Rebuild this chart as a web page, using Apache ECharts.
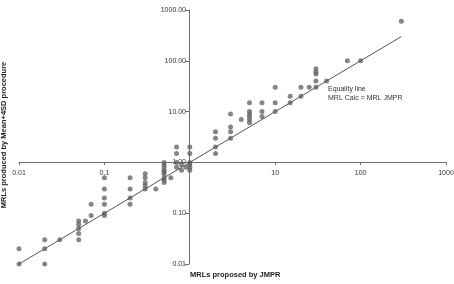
<!DOCTYPE html>
<html>
<head>
<meta charset="utf-8">
<script src="https://cdn.jsdelivr.net/npm/echarts@6/dist/echarts.min.js"></script>
<style>
  html, body { margin: 0; padding: 0; background: #fff; }
  #chart { width: 454px; height: 284px; }
</style>
</head>
<body>
<div id="chart"></div>
<script>
// MRL proposed by JMPR (x) vs MRL from Mean+4SD procedure (y)
const mrlJmpr = [
  0.01, 0.01,
  0.02, 0.02, 0.02,
  0.03,
  0.05, 0.05, 0.05, 0.05, 0.05,
  0.06,
  0.07, 0.07,
  0.1, 0.1, 0.1, 0.1, 0.1, 0.1,
  0.2, 0.2, 0.2, 0.2,
  0.3, 0.3, 0.3, 0.3, 0.3,
  0.4,
  0.5, 0.5, 0.5, 0.5, 0.5, 0.5, 0.5, 0.5, 0.5,
  0.6,
  0.7, 0.7, 0.7, 0.7,
  0.8, 0.8, 0.9,
  1, 1, 1, 1, 1, 1,
  2, 2, 2, 2,
  3, 3, 3, 3,
  4,
  5, 5, 5, 5, 5, 5,
  7, 7, 7,
  10, 10, 10,
  15, 15,
  20, 20,
  25,
  30, 30, 30, 30, 30,
  40,
  70, 100,
  300
];
const mrlCalc = [
  0.01, 0.02,
  0.01, 0.02, 0.03,
  0.03,
  0.03, 0.04, 0.05, 0.06, 0.07,
  0.07,
  0.09, 0.15,
  0.09, 0.1, 0.15, 0.2, 0.3, 0.5,
  0.15, 0.2, 0.3, 0.5,
  0.3, 0.35, 0.4, 0.5, 0.6,
  0.3,
  0.4, 0.45, 0.5, 0.6, 0.65, 0.7, 0.8, 0.9, 1,
  0.5,
  0.8, 1, 1.5, 2,
  0.7, 0.9, 0.8,
  0.7, 0.8, 0.9, 1, 1.5, 2,
  1.5, 2, 3, 4,
  3, 4, 5, 9,
  7,
  6, 7, 8, 9, 10, 15,
  8, 10, 15,
  10, 15, 30,
  15, 20,
  20, 30,
  30,
  30, 40, 55, 60, 70,
  40,
  100, 100,
  600
];
const equalityX = [0.01, 300];
const equalityY = [0.01, 300];

const xTickLabels = ['0.01', '0.1', '', '10', '100', '1000'];
const yTickLabels = ['0.01', '0.10', '1.00', '10.00', '100.00', '1000.00'];

const chart = echarts.init(document.getElementById('chart'));

const axisStyle = { color: '#6e6e6e', width: 1 };
const labelFont = { fontFamily: 'Liberation Sans, Arial, sans-serif', fontSize: 7, color: '#333' };

chart.setOption({
  animation: false,
  grid: { left: 19, right: 8, top: 10, bottom: 20, containLabel: false, outerBoundsMode: 'none' },
  xAxis: {
    type: 'log', logBase: 10, min: 0.01, max: 1000,
    position: 'bottom', offset: -102,
    axisLine: { lineStyle: axisStyle },
    axisTick: { length: 3, lineStyle: axisStyle },
    splitLine: { show: false },
    axisLabel: {
      ...labelFont, margin: 8, showMinLabel: true, showMaxLabel: true,
      formatter: (v, i) => xTickLabels[i] ?? ''
    }
  },
  yAxis: {
    type: 'log', logBase: 10, min: 0.01, max: 1000,
    position: 'left', offset: -170,
    axisLine: { lineStyle: axisStyle },
    axisTick: { length: 4, lineStyle: axisStyle },
    splitLine: { show: false },
    axisLabel: {
      ...labelFont, margin: 3, showMinLabel: true, showMaxLabel: true,
      formatter: (v, i) => yTickLabels[i] ?? ''
    }
  },
  graphic: [
    {
      type: 'text', left: 190, top: 271,
      style: { text: 'MRLs proposed by JMPR', font: 'bold 7.5px Liberation Sans, Arial, sans-serif', fill: '#222' }
    },
    {
      type: 'text', x: 4, y: 135, rotation: Math.PI / 2,
      style: {
        text: 'MRLs produced by Mean+4SD procedure', font: 'bold 7.5px Liberation Sans, Arial, sans-serif',
        fill: '#222', align: 'center', verticalAlign: 'middle'
      }
    },
    {
      type: 'text', left: 328, top: 85,
      style: { text: 'Equality line\nMRL Calc = MRL JMPR', font: '7px Liberation Sans, Arial, sans-serif', fill: '#333', lineHeight: 8.5 }
    }
  ],
  series: [
    {
      type: 'line',
      data: equalityX.map((x, i) => [x, equalityY[i]]),
      symbol: 'none',
      lineStyle: { color: '#555', width: 1 },
      silent: true
    },
    {
      type: 'scatter',
      data: mrlJmpr.map((x, i) => [x, mrlCalc[i]]),
      symbolSize: 5,
      itemStyle: { color: '#666' }
    }
  ]
});
</script>
</body>
</html>
